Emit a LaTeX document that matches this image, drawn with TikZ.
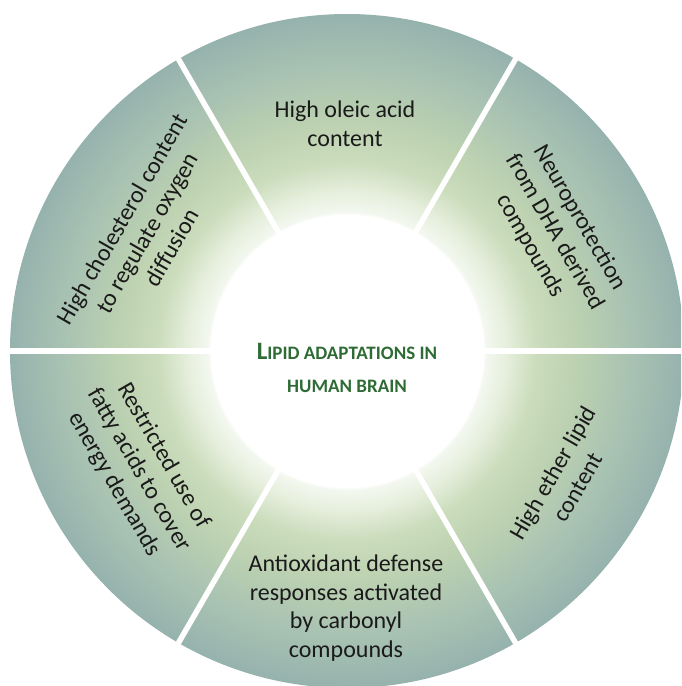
\documentclass[tikz,border=0pt]{standalone}
\usepackage{fontspec}
\setmainfont{Carlito}
\usetikzlibrary{calc}
\definecolor{glowA}{HTML}{E6EFDD}
\definecolor{greenA}{HTML}{CADCBB}
\definecolor{greenB}{HTML}{BCD1B1}
\definecolor{tealA}{HTML}{A8C2B2}
\definecolor{tealB}{HTML}{96B2AD}
\definecolor{textc}{HTML}{1A1A1A}
\definecolor{titlec}{HTML}{2F6B35}
\pgfdeclareradialshading{ringshade}{\pgfpoint{0bp}{0bp}}{color(0bp)=(white); color(10.1bp)=(white); color(10.3bp)=(glowA!45!white); color(11.8bp)=(glowA); color(14.1bp)=(greenA); color(17.1bp)=(greenB); color(21.1bp)=(tealA); color(25bp)=(tealB); color(50bp)=(tealB)}
\tikzset{
  lbl/.style={align=center, inner sep=0pt, text=textc, font=\fontsize{24}{28.5}\selectfont},
  divider/.style={draw=white, line width=5.5pt},
  titlelbl/.style={align=center, inner sep=0pt, text=titlec, font=\bfseries\fontsize{19}{33}\selectfont}
}
\begin{document}
\begin{tikzpicture}[x=1pt,y=-1pt]
\useasboundingbox (0,0) rectangle (681,686);
\fill[white] (0,0) rectangle (681,686);
\begin{scope}
\clip (0,0) rectangle (681,686);
\coordinate (c) at (347,351);
\path[shading=ringshade] (c) circle (337pt);
\foreach \a in {0,60,...,300}
  \draw[divider] ($(c)+(\a:130pt)$) -- ($(c)+(\a:360pt)$);
\fill[white] (c) circle (136pt);
\end{scope}
\node[titlelbl] (title) at (347,368) {{\fontsize{25}{33}\selectfont L}IPID ADAPTATIONS IN\\HUMAN BRAIN};
\node[lbl] (t1) at (345,124) {High oleic acid\\content};
\node[lbl, rotate=-60] (t2) at (555,232) {Neuroprotection\\from DHA derived\\compounds};
\node[lbl, rotate=60] (t3) at (565,480) {High ether lipid\\content};
\node[lbl] (t4) at (346,608) {Antioxidant defense\\responses activated\\by carbonyl\\compounds};
\node[lbl, rotate=-60] (t5) at (139,470) {Restricted use of\\fatty acids to cover\\energy demands};
\node[lbl, rotate=60] (t6) at (147,233) {High cholesterol content\\to regulate oxygen\\diffusion};
\end{tikzpicture}
\end{document}
